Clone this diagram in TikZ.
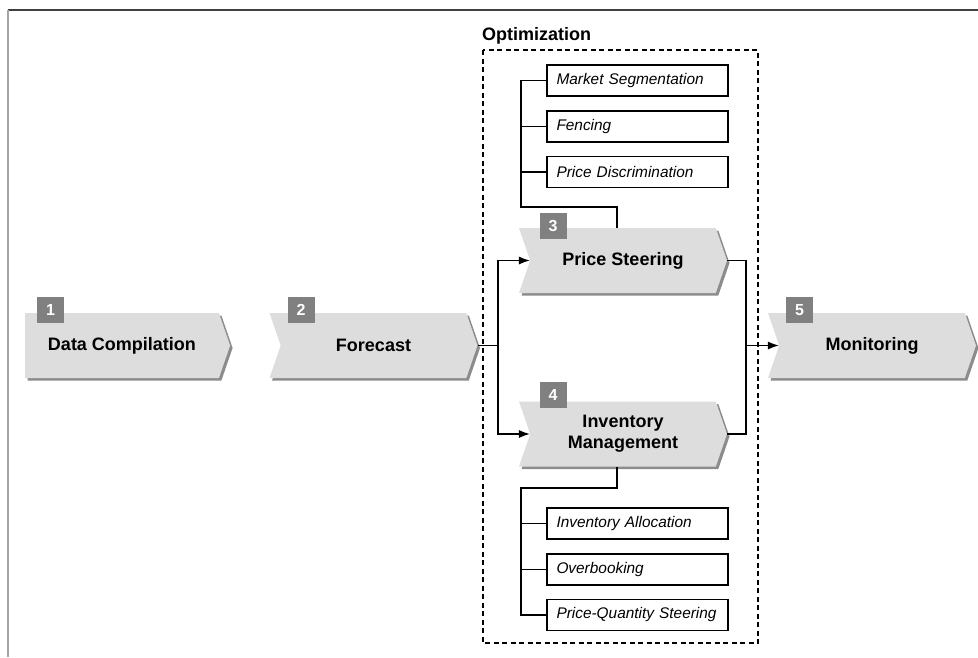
\documentclass[tikz,border=0pt]{standalone}
\usepackage{fontspec}
\setmainfont{Liberation Sans}
\usetikzlibrary{arrows.meta,shapes.symbols,shadows}
\definecolor{chevgray}{RGB}{221,221,221}
\definecolor{shadegray}{RGB}{140,140,140}
\definecolor{boxgray}{RGB}{128,128,128}
\definecolor{framegray}{RGB}{165,165,165}

\tikzset{
  chevron/.style={signal, signal to=east, signal from=west, signal pointer angle=142,
    fill=chevgray, minimum width=208pt, minimum height=65pt, inner sep=0pt,
    align=center, font=\fontsize{18}{21}\selectfont\bfseries,
    general shadow={fill=shadegray, shadow xshift=2.5pt, shadow yshift=-2.5pt}},
  firstchevron/.style={chevron, signal from=nowhere, minimum width=205pt},
  numbox/.style={fill=boxgray, text=white, minimum width=27pt, minimum height=26pt,
    inner sep=0pt, font=\fontsize{16}{16}\selectfont\bfseries},
  subbox/.style={draw, line width=1.3pt, minimum width=181pt, minimum height=31pt,
    text width=162pt, inner xsep=9.5pt, inner ysep=0pt, align=left,
    font=\fontsize{15.4}{18}\selectfont\itshape},
  link/.style={line width=1.4pt},
}

\begin{document}
\begin{tikzpicture}[x=1pt, y=-1pt, >={Latex[length=11pt,width=8pt]}]
            \useasboundingbox (0,0) rectangle (978,657);
            % Frame
            \draw[line width=2pt, black!75]   (8,10) -- (978,10);
            \draw[line width=2pt, framegray]  (8,10) -- (8,657);
            % Optimization box
            \draw[line width=1.3pt, dash pattern=on 5pt off 3.5pt] (483,50) rectangle (758,643);
            \node[anchor=base west, inner sep=0pt, font=\fontsize{18}{21}\selectfont\bfseries]
                 (opt) at (482,40) {Optimization};
            % Process steps
            \node[firstchevron] (dc) at (122.0,345.5) {Data Compilation};
            \node[chevron]      (fc) at (373.5,345.5) {Forecast};
            \node[chevron]      (ps) at (623.0,260.5) {Price Steering};
            \node[chevron]      (im) at (623.0,434.0) {Inventory\\Management};
            \node[chevron]      (mo) at (872.0,345.5) {Monitoring};
            % Step numbers
            \node[numbox] (n1) at (50.5,309.5) {1};
            \node[numbox] (n2) at (301.0,310.0) {2};
            \node[numbox] (n3) at (553.0,226.0) {3};
            \node[numbox] (n4) at (553.0,395.0) {4};
            \node[numbox] (n5) at (799.5,310.0) {5};
            % Price steering levers
            \node[subbox] (ms) at (637.5,80.5)  {Market Segmentation};
            \node[subbox] (fe) at (637.5,126.5) {Fencing};
            \node[subbox] (pd) at (637.5,172.0) {Price Discrimination};
            % Inventory levers
            \node[subbox] (ia) at (637.5,523.5) {Inventory Allocation};
            \node[subbox] (ob) at (637.5,569.5) {Overbooking};
            \node[subbox] (pq) at (637.5,615.0) {Price-Quantity Steering};
            % Brackets
            \coordinate (bt) at (521,207);
            \coordinate (bb) at (521,488);
            \draw[link] (ms.west) -| (bt) -| ([xshift=-6pt]ps.north);
            \draw[link] (fe.west) -- (fe.west -| bt);
            \draw[link] (pd.west) -- (pd.west -| bt);
            \draw[link] ([xshift=-6pt]im.south) |- (bb) |- (pq.west);
            \draw[link] (ia.west) -- (ia.west -| bb);
            \draw[link] (ob.west) -- (ob.west -| bb);
            % Flow
            \coordinate (sp) at (498,345.5);
            \coordinate (jn) at (746,345.5);
            \draw[link]    (fc.east) -- (sp);
            \draw[link,->] (sp) |- (ps.west);
            \draw[link,->] (sp) |- (im.west);
            \draw[link]    (ps.east) -| (jn);
            \draw[link]    (im.east) -| (jn);
            \draw[link,->] (jn) -- (mo.west);
\end{tikzpicture}
\end{document}
